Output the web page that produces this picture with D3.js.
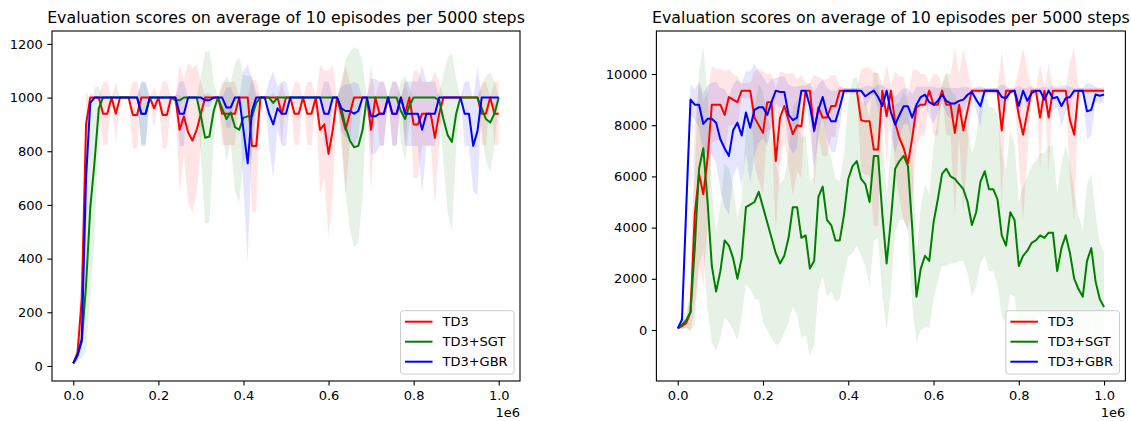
<!DOCTYPE html>
<html>
<head>
<meta charset="utf-8">
<script src="https://cdn.jsdelivr.net/npm/d3@7"></script>
<style>
  body { margin: 0; background: #fff; }
  svg { display: block; font-family: "DejaVu Sans", sans-serif; }
</style>
</head>
<body>
<div id="chart"></div>
<script>
// evaluation points every 10000 steps, 0 .. 1e6
const steps = d3.range(0, 1000001, 10000);
const seriesNames = ["TD3", "TD3+SGT", "TD3+GBR"];
const seriesColors = ["#ff0000", "#008000", "#0000ff"];
const xTicks = [0, 200000, 400000, 600000, 800000, 1000000];
const leftYTicks = [0, 200, 400, 600, 800, 1000, 1200];
const rightYTicks = [0, 2000, 4000, 6000, 8000, 10000];
const title = "Evaluation scores on average of 10 episodes per 5000 steps";

// ---- left panel: mean and std per series ----
const leftTD3 = [
  10, 50, 250, 900, 1000, 1000, 1000, 940, 940, 1000,
  940, 1000, 1000, 1000, 935, 935, 1000, 1000, 1000, 960,
  1000, 935, 935, 1000, 1000, 880, 930, 870, 840, 880,
  940, 1000, 1000, 1000, 1000, 940, 940, 940, 940, 1000,
  1000, 1000, 820, 820, 1000, 1000, 1000, 1000, 1000, 940,
  1000, 1000, 940, 940, 1000, 940, 940, 1000, 880, 900,
  790, 880, 1000, 940, 880, 940, 1000, 1000, 1000, 1000,
  880, 1000, 940, 940, 1000, 940, 940, 1000, 940, 1000,
  900, 900, 940, 940, 940, 850, 940, 1000, 1000, 1000,
  1000, 1000, 1000, 1000, 1000, 1000, 940, 940, 1000, 940,
  940];
const leftTD3Sd = [
  5, 30, 150, 120, 0, 0, 0, 118, 118, 0,
  118, 0, 0, 0, 125, 125, 0, 0, 0, 80,
  0, 125, 125, 0, 0, 240, 140, 260, 270, 240,
  118, 0, 0, 0, 0, 118, 118, 118, 118, 0,
  0, 0, 245, 245, 0, 0, 0, 0, 0, 118,
  0, 0, 118, 118, 0, 118, 118, 0, 240, 200,
  310, 240, 0, 118, 240, 118, 0, 0, 0, 0,
  240, 0, 118, 118, 0, 118, 118, 0, 118, 0,
  200, 200, 118, 118, 118, 250, 118, 0, 0, 0,
  0, 0, 0, 0, 0, 0, 118, 118, 0, 118,
  118];
const leftSGT = [
  10, 40, 90, 300, 590, 760, 960, 1000, 1000, 1000,
  1000, 1000, 1000, 1000, 1000, 1000, 940, 940, 1000, 1000,
  1000, 1000, 1000, 1000, 990, 990, 1000, 1000, 1000, 1000,
  930, 850, 855, 950, 1000, 960, 920, 945, 890, 880,
  925, 930, 930, 980, 1000, 1000, 1000, 980, 1000, 1000,
  1000, 1000, 1000, 1000, 1000, 1000, 1000, 1000, 1000, 1000,
  1000, 1000, 1000, 960, 890, 840, 815, 820, 880, 1000,
  1000, 1000, 1000, 1000, 1000, 1000, 1000, 950, 920, 970,
  1000, 1000, 1000, 1000, 1000, 1000, 990, 920, 860, 835,
  940, 1000, 1000, 1000, 1000, 1000, 960, 920, 907, 940,
  1000];
const leftSGTSd = [
  5, 20, 60, 250, 330, 280, 80, 0, 0, 0,
  0, 0, 0, 0, 0, 0, 115, 115, 0, 0,
  0, 0, 0, 0, 20, 20, 0, 0, 0, 0,
  150, 320, 320, 110, 0, 80, 160, 110, 240, 270,
  160, 150, 150, 40, 0, 0, 0, 40, 0, 0,
  0, 0, 0, 0, 0, 0, 0, 0, 0, 0,
  0, 0, 0, 90, 250, 330, 373, 360, 250, 0,
  0, 0, 0, 0, 0, 0, 0, 110, 160, 70,
  0, 0, 0, 0, 0, 0, 30, 160, 290, 330,
  130, 0, 0, 0, 0, 0, 80, 160, 185, 120,
  0];
const leftGBR = [
  10, 40, 100, 700, 980, 1000, 1000, 1000, 1000, 1000,
  1000, 1000, 1000, 1000, 1000, 1000, 940, 940, 1000, 1000,
  1000, 1000, 1000, 1000, 1000, 940, 940, 1000, 1000, 1000,
  1000, 990, 990, 1000, 1000, 1000, 963, 963, 1000, 1000,
  880, 755, 950, 1000, 1000, 1000, 940, 900, 960, 940,
  940, 1000, 1000, 1000, 1000, 1000, 1000, 1000, 1000, 940,
  940, 1000, 1000, 960, 950, 950, 940, 950, 1000, 1000,
  930, 930, 940, 940, 1000, 940, 940, 1000, 940, 940,
  940, 940, 880, 940, 940, 940, 1000, 1000, 1000, 1000,
  1000, 1000, 940, 940, 820, 875, 1000, 1000, 1000, 1000,
  1000];
const leftGBRSd = [
  5, 20, 40, 200, 40, 0, 0, 0, 0, 0,
  0, 0, 0, 0, 0, 0, 120, 120, 0, 0,
  0, 0, 0, 0, 0, 120, 120, 0, 0, 0,
  0, 25, 25, 0, 0, 0, 75, 75, 0, 0,
  220, 370, 120, 0, 0, 0, 120, 200, 80, 120,
  120, 0, 0, 0, 0, 0, 0, 0, 0, 120,
  120, 0, 0, 80, 100, 100, 120, 100, 0, 0,
  140, 140, 120, 120, 0, 120, 120, 0, 120, 120,
  120, 120, 240, 120, 120, 120, 0, 0, 0, 0,
  0, 0, 120, 120, 170, 240, 0, 0, 0, 0,
  0];

// ---- right panel ----
const rightTD3 = [
  65, 150, 280, 700, 4500, 6100, 5300, 6700, 8800, 8800,
  8800, 8400, 9100, 9000, 8900, 9350, 9350, 9350, 8300, 8000,
  7700, 8900, 8900, 6600, 8300, 8750, 8200, 7650, 8000, 7950,
  9350, 9350, 7760, 8700, 8300, 8300, 8750, 8750, 9350, 9350,
  9350, 9350, 9350, 8200, 8150, 8150, 7050, 7050, 9350, 8350,
  9350, 8100, 7500, 7100, 6500, 7500, 8700, 8800, 8800, 9350,
  8800, 8800, 9350, 8800, 8800, 7700, 8800, 7800, 8600, 9350,
  9350, 9350, 9350, 9350, 9350, 9350, 7800, 9350, 9350, 9350,
  8400, 7630, 8500, 9350, 9350, 8300, 9350, 8300, 9350, 9350,
  9350, 9350, 8200, 7630, 9350, 9350, 9350, 9350, 9350, 9350,
  9350];
const rightTD3Sd = [
  20, 100, 200, 800, 3500, 3600, 3600, 2600, 1500, 1400,
  1400, 1700, 1100, 1000, 1000, 300, 300, 300, 1800, 2200,
  2400, 1100, 1100, 2800, 1800, 1300, 1800, 2400, 1800, 2000,
  300, 300, 2200, 1200, 1500, 1500, 1200, 1200, 200, 100,
  100, 100, 100, 2000, 2100, 2100, 3000, 3000, 200, 2000,
  200, 2000, 2400, 2800, 2600, 2600, 1500, 1200, 1200, 300,
  1200, 1200, 200, 1200, 1200, 3300, 1200, 3200, 1600, 100,
  100, 100, 100, 100, 100, 100, 3100, 100, 100, 100,
  1800, 3400, 1700, 100, 100, 2100, 100, 2100, 100, 100,
  100, 100, 2300, 3400, 100, 100, 100, 100, 100, 100,
  50];
const rightSGT = [
  65, 200, 380, 700, 3200, 6300, 7100, 5000, 2500, 1500,
  2300, 3500, 3300, 2800, 2000, 2800, 4800, 4900, 5000, 5400,
  4800, 4200, 3600, 3000, 2600, 2900, 3600, 4800, 4800, 3600,
  3700, 2400, 2700, 5200, 5600, 4300, 4100, 3500, 3500, 4500,
  5900, 6400, 6600, 5900, 5700, 5000, 6800, 6800, 4500, 2600,
  4300, 6300, 6600, 6800, 6400, 4000, 1300, 2400, 2900, 2700,
  4200, 5100, 6100, 6300, 6000, 5900, 5700, 5500, 5000, 4100,
  4600, 5800, 6200, 5500, 5500, 5100, 3700, 3300, 4600, 4300,
  2500, 2900, 3100, 3400, 3500, 3700, 3600, 3800, 3800, 2300,
  3200, 3700, 3000, 2000, 1600, 1300, 2700, 3200, 1900, 1200,
  900];
const rightSGTSd = [
  50, 150, 300, 700, 3000, 3800, 4000, 4200, 3000, 2300,
  2600, 3000, 3000, 2800, 2400, 2300, 3000, 3300, 3800, 4200,
  4500, 4200, 3900, 3600, 3100, 3000, 3300, 3900, 4200, 3900,
  3900, 3400, 3300, 3700, 3500, 3000, 2600, 2400, 2300, 2400,
  3000, 3400, 3300, 3000, 3200, 3300, 3300, 3200, 3200, 2600,
  2800, 2500, 2300, 2500, 2500, 3000, 1800, 2400, 2800, 2600,
  3000, 3200, 3600, 3800, 3400, 3300, 3000, 2800, 2800, 2800,
  2900, 3200, 3300, 3200, 3200, 3300, 3200, 3000, 3200, 3000,
  2500, 2700, 2900, 3000, 3100, 3200, 3300, 3400, 3400, 3000,
  3300, 3500, 3500, 3400, 2900, 2600, 3000, 2900, 2600, 2200,
  2100];
const rightGBR = [
  65, 400, 4800, 9000, 8800, 8800, 8050, 8250, 8250, 8100,
  7450, 7100, 6800, 7800, 8100, 7600, 8500, 7900, 8600, 8700,
  8700, 8400, 8900, 9350, 9300, 9300, 8400, 8200, 8300, 9350,
  9350, 8750, 7820, 8600, 9100, 8450, 8150, 8150, 8700, 9350,
  9350, 9350, 9350, 9350, 9130, 9250, 9350, 9100, 8750, 9350,
  8500, 8020, 8400, 8740, 8740, 8300, 8800, 9100, 9190, 8900,
  8800, 8950, 9190, 8950, 8850, 8850, 8950, 9000, 9190, 9300,
  9000, 8740, 9350, 9350, 9350, 9350, 9100, 9050, 9300, 9350,
  8750, 9350, 8950, 9250, 9350, 9350, 9000, 9350, 9050, 9100,
  8750, 9050, 9100, 9350, 9350, 9350, 8540, 8600, 9200, 9150,
  9200];
const rightGBRSd = [
  20, 300, 1500, 600, 600, 900, 1200, 1300, 1400, 1600,
  2000, 2300, 2300, 1800, 1700, 2000, 1600, 2200, 1800, 1400,
  1200, 1200, 900, 500, 600, 600, 1200, 1300, 1200, 200,
  200, 900, 1500, 1000, 700, 1000, 1200, 1200, 800, 100,
  100, 100, 100, 100, 400, 300, 100, 500, 800, 100,
  900, 1100, 900, 700, 700, 900, 700, 400, 300, 600,
  700, 500, 300, 500, 600, 600, 500, 500, 300, 100,
  500, 800, 100, 100, 100, 100, 500, 500, 100, 100,
  800, 100, 500, 300, 100, 100, 500, 100, 500, 400,
  800, 500, 400, 100, 100, 100, 1100, 1000, 300, 300,
  300];

const width = 1131, height = 421;
const fontSize = 13;

const svg = d3.select("#chart").append("svg")
  .attr("width", width)
  .attr("height", height);

svg.append("rect").attr("width", width).attr("height", height).attr("fill", "#fff");

function drawPanel(id, opts) {
  const { left, right, top, bottom, yDomain, yTicks, means, sds } = opts;

  const x = d3.scaleLinear().domain([-50000, 1050000]).range([left, right]);
  const y = d3.scaleLinear().domain(yDomain).range([bottom, top]);

  const g = svg.append("g").attr("class", "panel-" + id);

  g.append("clipPath").attr("id", "clip-" + id)
    .append("rect")
    .attr("x", left).attr("y", top)
    .attr("width", right - left).attr("height", bottom - top);

  const plot = g.append("g").attr("clip-path", `url(#clip-${id})`);

  // shaded std bands (drawn under all lines)
  means.forEach((m, k) => {
    const area = d3.area()
      .x((d, i) => x(steps[i]))
      .y0((d, i) => y(m[i] - sds[k][i]))
      .y1((d, i) => y(m[i] + sds[k][i]));
    plot.append("path")
      .datum(m)
      .attr("d", area)
      .attr("fill", seriesColors[k])
      .attr("fill-opacity", 0.1)
      .attr("stroke", "none");
  });

  const line = d3.line().x((d, i) => x(steps[i])).y(d => y(d));
  means.forEach((m, k) => {
    plot.append("path")
      .datum(m)
      .attr("d", line)
      .attr("fill", "none")
      .attr("stroke", seriesColors[k])
      .attr("stroke-width", 2)
      .attr("stroke-linejoin", "round");
  });

  // axes
  const xAxis = d3.axisBottom(x)
    .tickValues(xTicks)
    .tickFormat(d => (d / 1e6).toFixed(1))
    .tickSize(4.6)
    .tickPadding(5);
  const yAxis = d3.axisLeft(y)
    .tickValues(yTicks)
    .tickFormat(d3.format("d"))
    .tickSize(4.6)
    .tickPadding(4.6);

  const gx = g.append("g").attr("transform", `translate(0,${bottom})`).call(xAxis);
  const gy = g.append("g").attr("transform", `translate(${left},0)`).call(yAxis);
  [gx, gy].forEach(a => {
    a.select(".domain").remove();
    a.selectAll("line").attr("stroke", "#000").attr("stroke-width", 1.1);
    a.selectAll("text")
      .attr("fill", "#000")
      .style("font-size", fontSize + "px")
      .style("font-family", "'DejaVu Sans', sans-serif");
  });

  // frame
  g.append("rect")
    .attr("x", left).attr("y", top)
    .attr("width", right - left).attr("height", bottom - top)
    .attr("fill", "none")
    .attr("stroke", "#000")
    .attr("stroke-width", 1.1);

  // offset text
  g.append("text")
    .attr("x", right)
    .attr("y", 417)
    .attr("text-anchor", "end")
    .style("font-size", fontSize + "px")
    .text("1e6");

  // title
  g.append("text")
    .attr("x", (left + right) / 2)
    .attr("y", 23)
    .attr("text-anchor", "middle")
    .style("font-size", "15.8px")
    .text(title);

  // legend
  const boxW = 113.6, boxH = 63.3;
  const bx = right - 5.9 - boxW, by = bottom - 7 - boxH;
  const lg = g.append("g");
  lg.append("rect")
    .attr("x", bx).attr("y", by)
    .attr("width", boxW).attr("height", boxH)
    .attr("rx", 3)
    .attr("fill", "#fff").attr("fill-opacity", 0.8)
    .attr("stroke", "#cccccc").attr("stroke-width", 1);
  seriesNames.forEach((name, k) => {
    const ry = by + 11 + k * 20;
    lg.append("line")
      .attr("x1", bx + 4.5).attr("x2", bx + 32)
      .attr("y1", ry).attr("y2", ry)
      .attr("stroke", seriesColors[k]).attr("stroke-width", 2);
    lg.append("text")
      .attr("x", bx + 42)
      .attr("y", ry)
      .attr("dy", "0.36em")
      .style("font-size", fontSize + "px")
      .text(name);
  });
}

drawPanel("left", {
  left: 52, right: 520, top: 31, bottom: 381,
  yDomain: [-56, 1248],
  yTicks: leftYTicks,
  means: [leftTD3, leftSGT, leftGBR],
  sds: [leftTD3Sd, leftSGTSd, leftGBRSd]
});

drawPanel("right", {
  left: 656.4, right: 1125.4, top: 31, bottom: 381,
  yDomain: [-1992, 11680],
  yTicks: rightYTicks,
  means: [rightTD3, rightSGT, rightGBR],
  sds: [rightTD3Sd, rightSGTSd, rightGBRSd]
});
</script>
</body>
</html>
